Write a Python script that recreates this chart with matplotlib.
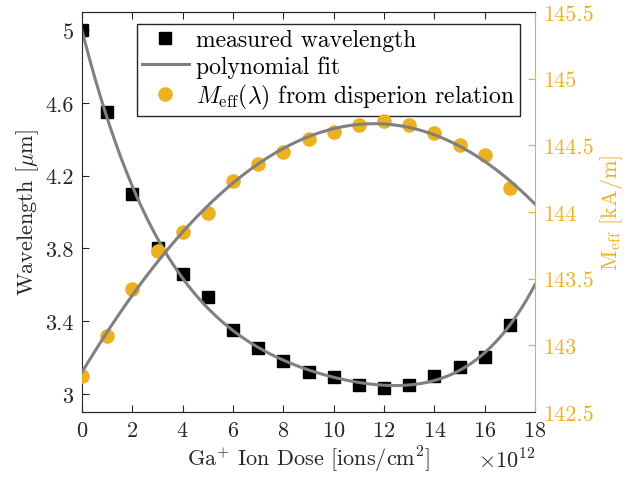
import numpy as np
import matplotlib
matplotlib.use("Agg")
import matplotlib.pyplot as plt

# data (dose in units of 1e12 ions/cm^2)
dose = np.array([0, 1, 2, 3, 4, 5, 6, 7, 8, 9, 10, 11, 12, 13, 14, 15, 16, 17])
wavelength = np.array([5.00, 4.55, 4.10, 3.80, 3.66, 3.53, 3.35, 3.25, 3.18, 3.12,
                       3.09, 3.05, 3.03, 3.05, 3.10, 3.15, 3.20, 3.38])
meff = np.array([142.77, 143.07, 143.42, 143.71, 143.85, 143.99, 144.23, 144.36, 144.45,
                 144.55, 144.60, 144.65, 144.68, 144.65, 144.59, 144.50, 144.43, 144.18])

orange = "#EDB120"
gray = "#808080"
dark = "#262626"
fs = 16

plt.rcParams["font.family"] = "serif"
plt.rcParams["font.serif"] = ["cmr10"]
plt.rcParams["mathtext.fontset"] = "cm"
plt.rcParams["axes.formatter.use_mathtext"] = True
plt.rcParams["font.size"] = fs

fig = plt.figure(figsize=(6.27, 4.81), dpi=100)
ax = fig.add_axes([0.1308, 0.1414, 0.7225, 0.8316])
ax2 = ax.twinx()

# polynomial fits
xf = np.linspace(0, 18, 300)
pw = np.polyfit(dose, wavelength, 4)
pm = np.polyfit(dose, meff, 3)

h1, = ax.plot(dose, wavelength, "s", color="k", markersize=8.5, linestyle="none")
h2, = ax.plot(xf, np.polyval(pw, xf), color=gray, lw=2.2)
h3, = ax2.plot(dose, meff, "o", color=orange, markersize=9.5, linestyle="none")
ax2.plot(xf, np.polyval(pm, xf), color=gray, lw=2.2)

ax.set_xlim(0, 18)
ax.set_ylim(2.9, 5.1)
ax.set_xticks(np.arange(0, 19, 2))
ax.set_yticks([3, 3.4, 3.8, 4.2, 4.6, 5])
ax.set_yticklabels(["3", "3.4", "3.8", "4.2", "4.6", "5"])
ax2.set_ylim(142.5, 145.5)
ax2.set_yticks([142.5, 143, 143.5, 144, 144.5, 145, 145.5])
ax2.set_yticklabels(["142.5", "143", "143.5", "144", "144.5", "145", "145.5"])

ax.tick_params(direction="in", top=True, right=False, colors=dark, length=5,
               labelsize=fs, pad=6)
ax2.tick_params(direction="in", colors=orange, length=5, labelsize=fs, pad=6)
for s in ["left", "bottom", "top"]:
    ax.spines[s].set_color(dark)
ax.spines["right"].set_visible(False)
ax2.spines["right"].set_color(orange)
ax2.spines["left"].set_visible(False)
ax2.spines["top"].set_color(dark)
ax2.spines["bottom"].set_color(dark)

ax.set_xlabel(r"Ga$^{+}$ Ion Dose [ions/cm$^{2}$]", color=dark, labelpad=3)
ax.text(1.0, -0.118, r"$\times10^{12}$", transform=ax.transAxes, ha="right",
        va="center", color=dark, fontsize=fs)
ax.set_ylabel(r"Wavelength [$\mu$m]", color=dark, labelpad=3)
ax2.set_ylabel(r"M$_{\rm eff}$ [kA/m]", color=orange, labelpad=3)

ax.legend([h1, h2, h3], ["measured wavelength", "polynomial fit",
                         r"$M_{\rm eff}(\lambda)$ from disperion relation"],
          loc="upper right", bbox_to_anchor=(0.966, 0.97), fancybox=False,
          edgecolor=dark, framealpha=1, borderpad=0.2, handlelength=2.0,
          handletextpad=0.3, labelspacing=0.18, borderaxespad=0, fontsize=17)

fig.savefig("out.png", dpi=100)
